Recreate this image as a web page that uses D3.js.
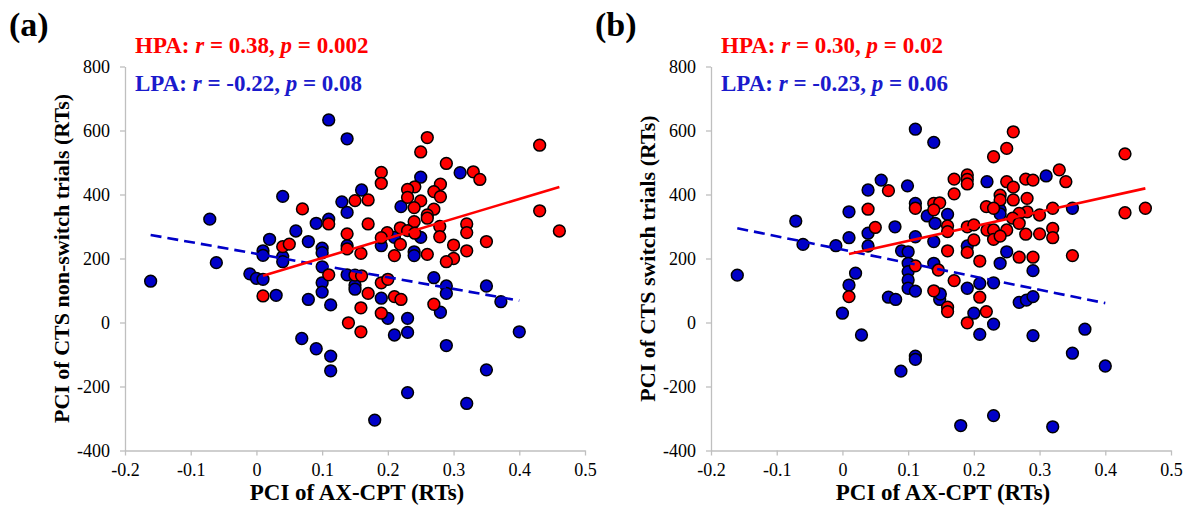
<!DOCTYPE html>
<html>
<head>
<meta charset="utf-8">
<script src="https://cdn.jsdelivr.net/npm/d3@7"></script>
<style>
  body { margin: 0; background: #fff; }
  text { font-family: "Liberation Serif", "Times New Roman", serif; }
</style>
</head>
<body>
<svg id="canvas" width="1189" height="517"></svg>
<script>
// x = PCI of AX-CPT, y = PCI of CTS (RTs)
const hpaA = [
  [0.110,308],[0.040,237],[0.050,245],[0.070,355],[0.138,277],[0.138,230],[0.110,149],[0.010,83],
  [0.260,578],[0.250,533],[0.431,554],[0.289,497],[0.330,471],[0.340,447],[0.190,469],[0.190,435],
  [0.241,424],[0.230,416],[0.230,391],[0.250,380],[0.280,432],[0.270,409],[0.280,393],[0.150,381],
  [0.170,383],[0.240,359],[0.270,354],[0.260,336],[0.260,326],[0.240,315],[0.431,349],[0.461,286],
  [0.170,308],[0.279,300],[0.279,268],[0.320,308],[0.320,281],[0.219,296],[0.230,287],[0.241,279],
  [0.199,281],[0.190,265],[0.219,244],[0.300,242],[0.350,253],[0.320,224],[0.159,216],[0.210,209],
  [0.260,213],[0.300,200],[0.289,190],[0.150,148],[0.160,146],[0.190,124],[0.200,135],[0.170,91],
  [0.210,81],[0.220,72],[0.270,57],[0.159,46],[0.190,29],[0.140,-1],[0.159,-29]
];
const lpaA = [
  [0.110,633],[0.138,574],[0.040,394],[-0.071,323],[0.130,377],[0.138,344],[0.060,286],[0.091,310],
  [0.110,323],[0.020,260],[0.010,224],[0.010,210],[0.040,206],[0.040,190],[0.079,253],[0.100,232],
  [0.100,218],[0.138,240],[0.100,174],[0.138,149],[-0.010,152],[0.000,138],[0.010,135],[-0.161,129],
  [-0.061,187],[0.100,124],[0.100,95],[0.030,85],[0.079,72],[0.310,468],[0.250,454],[0.160,414],
  [0.220,362],[0.250,266],[0.210,266],[0.190,240],[0.240,221],[0.240,209],[0.270,140],[0.289,114],
  [0.350,114],[0.150,117],[0.150,104],[0.190,76],[0.372,65],[0.289,91],[0.280,32],[0.113,55],
  [0.200,13],[0.230,13],[0.230,-31],[0.210,-39],[0.289,-72],[0.400,-29],[0.350,-148],[0.113,-105],
  [0.113,-151],[0.230,-219],[0.320,-253],[0.180,-305],[0.069,-50],[0.091,-82]
];
const hpaB = [
  [0.070,412],[0.111,357],[0.139,372],[0.148,374],[0.139,352],[0.039,354],[0.050,297],[0.111,177],
  [0.146,164],[0.010,81],[0.139,99],[0.260,596],[0.250,544],[0.230,518],[0.430,527],[0.330,477],
  [0.340,440],[0.279,448],[0.290,445],[0.170,448],[0.190,461],[0.190,447],[0.190,433],[0.250,440],
  [0.260,423],[0.170,402],[0.240,398],[0.260,383],[0.281,388],[0.240,383],[0.219,362],[0.230,357],
  [0.281,346],[0.269,341],[0.300,336],[0.320,357],[0.430,343],[0.461,357],[0.259,326],[0.269,310],
  [0.160,302],[0.160,284],[0.190,299],[0.200,305],[0.220,289],[0.230,289],[0.250,289],[0.320,294],
  [0.320,265],[0.279,276],[0.300,277],[0.230,260],[0.240,270],[0.200,258],[0.160,224],[0.190,219],
  [0.209,192],[0.269,204],[0.290,204],[0.350,209],[0.170,131],[0.209,79],[0.160,48],[0.160,34],
  [0.219,34],[0.190,-1]
];
const lpaB = [
  [0.111,604],[0.139,563],[0.059,445],[0.039,414],[0.099,427],[0.111,372],[0.129,333],[0.141,310],
  [0.010,346],[-0.071,317],[0.039,279],[0.080,299],[0.111,268],[0.139,253],[0.010,265],[-0.060,244],
  [-0.010,240],[0.039,239],[0.090,224],[0.100,221],[0.100,185],[0.139,185],[-0.160,148],[0.020,154],
  [0.100,159],[0.100,133],[0.100,107],[0.111,98],[0.010,117],[0.070,79],[0.081,72],[0.000,29],
  [0.029,-39],[0.148,72],[0.111,-105],[0.111,-115],[0.089,-152],[0.310,458],[0.220,440],[0.160,338],
  [0.240,352],[0.240,339],[0.350,357],[0.190,239],[0.250,221],[0.240,185],[0.290,162],[0.190,107],
  [0.209,122],[0.230,124],[0.149,89],[0.200,29],[0.230,-5],[0.209,-37],[0.269,63],[0.280,70],
  [0.290,81],[0.290,-41],[0.369,-21],[0.350,-96],[0.400,-136],[0.180,-322],[0.230,-291],[0.320,-326]
];

// fitted lines [intercept, slope]
const hpaFitA = [140, 615];
const lpaFitA = [214.7, -366];
const hpaFitB = [209.4, 455];
const lpaFitB = [227.7, -418];

const xTicks = [-0.2, -0.1, 0, 0.1, 0.2, 0.3, 0.4, 0.5];
const yTicks = [-400, -200, 0, 200, 400, 600, 800];

const statsA = { hpa: ["0.38", "0.002"], lpa: ["-0.22", "0.08"] };
const statsB = { hpa: ["0.30", "0.02"], lpa: ["-0.23", "0.06"] };

const RED = "#ff0000", BLUE = "#0000c8", TXTBLUE = "#1a1acc", GREY = "#bfbfbf";

const svg = d3.select("#canvas");

function panel(left, label, yTitle, hpa, lpa, hpaFit, lpaFit, stats) {
  const x = d3.scaleLinear().domain([-0.2, 0.5]).range([left, left + 460]);
  const y = d3.scaleLinear().domain([-400, 800]).range([450.5, 66.5]);

  const xAxis = svg.append("g")
    .attr("transform", "translate(0,450.5)")
    .call(d3.axisBottom(x).tickValues(xTicks).tickSize(5).tickSizeOuter(0).tickPadding(8)
      .tickFormat(d => String(+d.toFixed(1))));
  const yAxis = svg.append("g")
    .attr("transform", `translate(${x(-0.2)},0)`)
    .call(d3.axisLeft(y).tickValues(yTicks).tickSize(5).tickSizeOuter(0).tickPadding(10)
      .tickFormat(d => String(d)));
  [xAxis, yAxis].forEach(g => {
    g.selectAll("path, line").attr("stroke", GREY).attr("stroke-width", 1.3);
    g.selectAll("text").attr("font-size", 18).attr("fill", "#000");
  });

  // points: LPA first, HPA on top
  const pts = svg.append("g").attr("stroke", "#000").attr("stroke-width", 1.5);
  pts.selectAll("circle.lpa").data(lpa).join("circle").attr("class", "lpa")
    .attr("cx", d => x(d[0])).attr("cy", d => y(d[1])).attr("r", 5.9).attr("fill", BLUE);
  pts.selectAll("circle.hpa").data(hpa).join("circle").attr("class", "hpa")
    .attr("cx", d => x(d[0])).attr("cy", d => y(d[1])).attr("r", 5.9).attr("fill", RED);

  const fitLine = (data, fit) => {
    const [x0, x1] = d3.extent(data, d => d[0]);
    return [[x0, fit[0] + fit[1] * x0], [x1, fit[0] + fit[1] * x1]];
  };
  const line = d3.line().x(d => x(d[0])).y(d => y(d[1]));
  svg.append("path").attr("d", line(fitLine(lpa, lpaFit)))
    .attr("stroke", BLUE).attr("stroke-width", 2.6).attr("stroke-dasharray", "11,6").attr("fill", "none");
  svg.append("path").attr("d", line(fitLine(hpa, hpaFit)))
    .attr("stroke", RED).attr("stroke-width", 2.6).attr("fill", "none");

  // annotations
  const ann = (name, vals, color, yy) => {
    const t = svg.append("text").attr("x", left + 10).attr("y", yy)
      .attr("font-size", 23).attr("font-weight", "bold").attr("fill", color);
    t.append("tspan").text(name + ": ");
    t.append("tspan").attr("font-style", "italic").text("r");
    t.append("tspan").text(" = " + vals[0] + ", ");
    t.append("tspan").attr("font-style", "italic").text("p");
    t.append("tspan").text(" = " + vals[1]);
  };
  ann("HPA", stats.hpa, RED, 53);
  ann("LPA", stats.lpa, TXTBLUE, 91);

  svg.append("text").attr("x", left - 116).attr("y", 36)
    .attr("font-size", 34).attr("font-weight", "bold").text(label);

  svg.append("text").attr("x", left + 232).attr("y", 500).attr("text-anchor", "middle")
    .attr("font-size", 23).attr("font-weight", "bold").text("PCI of AX-CPT (RTs)");

  svg.append("text").attr("transform", `translate(${left - 56},258.5) rotate(-90)`)
    .attr("text-anchor", "middle").attr("font-size", 22).attr("font-weight", "bold").text(yTitle);
}

panel(125, "(a)", "PCI of CTS non-switch trials (RTs)", hpaA, lpaA, hpaFitA, lpaFitA, statsA);
panel(711, "(b)", "PCI of CTS switch trials (RTs)", hpaB, lpaB, hpaFitB, lpaFitB, statsB);
</script>
</body>
</html>
